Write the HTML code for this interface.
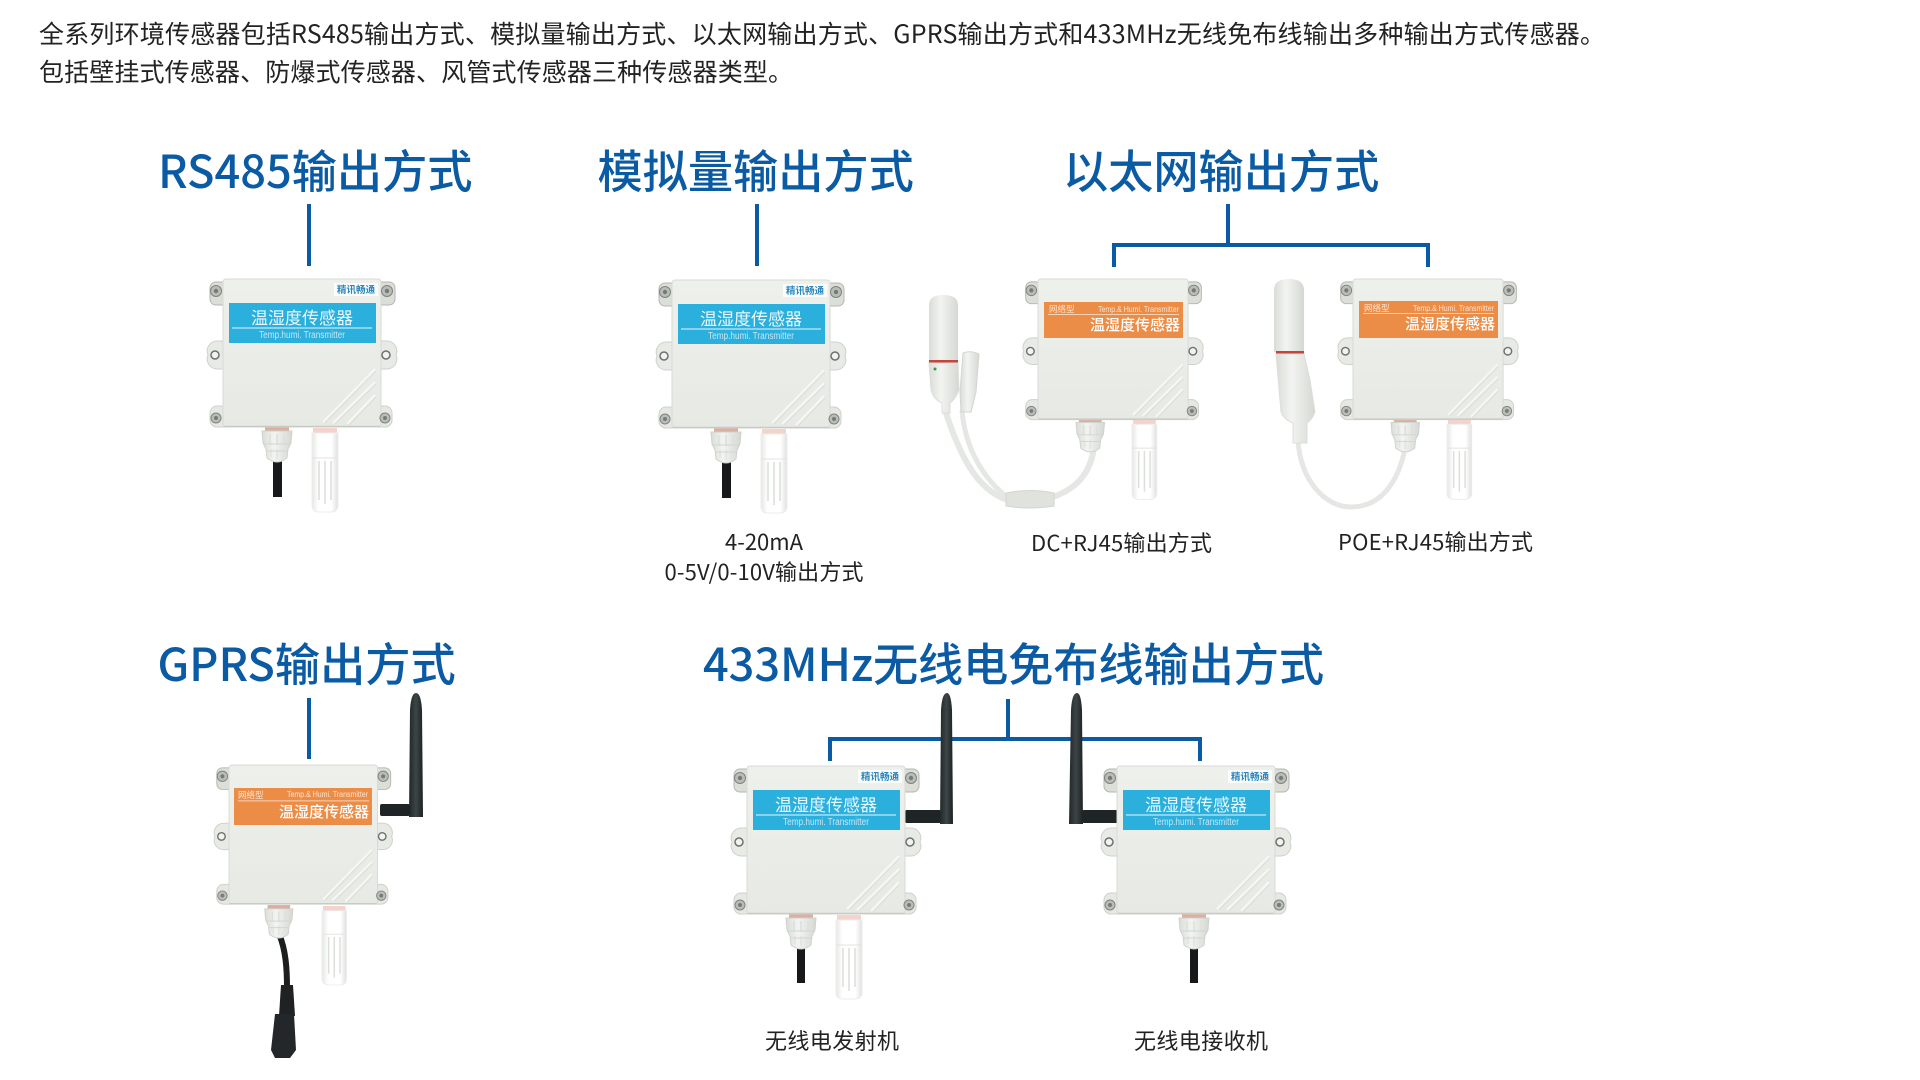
<!DOCTYPE html>
<html lang="zh">
<head>
<meta charset="utf-8">
<title>传感器输出方式</title>
<style>
html,body{margin:0;padding:0;background:#fff;width:1920px;height:1080px;overflow:hidden}
svg{display:block}
text{font-family:"Liberation Sans","Noto Sans CJK SC",sans-serif}
.cjk{font-family:"Noto Sans CJK SC","Liberation Sans",sans-serif}
.t{font-size:45.200px;fill:#0b5ba4;font-weight:500}
.p{font-size:25px;fill:#222}
.s{font-size:22px;fill:#222}
.lab{font-size:17px;fill:#eaf7fc}
.tmp{font-size:10px;fill:#c6e6f2}
.lg{font-size:9.500px;fill:#2a86bd;font-weight:700}
.ot{font-size:15px;fill:#fff;font-weight:500}
.os{font-size:8.500px;fill:#fbe3d0}
</style>
</head>
<body>
<svg xmlns="http://www.w3.org/2000/svg" width="1920" height="1080" viewBox="0 0 1920 1080">
<defs>
<linearGradient id="bg" x1="0" y1="0" x2="0" y2="1"><stop offset="0" stop-color="#eef0ec"/><stop offset="1" stop-color="#e7e9e4"/></linearGradient>
<linearGradient id="ant" x1="0" y1="0" x2="1" y2="0"><stop offset="0" stop-color="#22282a"/><stop offset=".5" stop-color="#3d4547"/><stop offset="1" stop-color="#1d2224"/></linearGradient>
<linearGradient id="pr" x1="0" y1="0" x2="1" y2="0"><stop offset="0" stop-color="#e6e7e5"/><stop offset=".25" stop-color="#fff"/><stop offset=".75" stop-color="#fff"/><stop offset="1" stop-color="#dfe0de"/></linearGradient>
<linearGradient id="st" x1="0" y1="0" x2="1" y2="0"><stop offset="0" stop-color="#d9dcd6"/><stop offset=".4" stop-color="#f3f4f1"/><stop offset="1" stop-color="#d5d8d2"/></linearGradient>
<g id="body">
  <path d="M3 3H-7a6 6 0 0 0-6 6v11a6 6 0 0 0 6 6H3Z" fill="#dcded8" stroke="#b5b7b1"/>
  <path d="M155 3h11a6 6 0 0 1 6 6v11a6 6 0 0 1-6 6h-11Z" fill="#dcded8" stroke="#b5b7b1"/>
  <path d="M3 62H-6a10 10 0 0 0-9 14 10 10 0 0 0 9 14H3Z" fill="#e8eae5" stroke="#cfd1cb"/>
  <path d="M155 62h9a10 10 0 0 1 9 14 10 10 0 0 1-9 14h-9Z" fill="#e8eae5" stroke="#cfd1cb"/>
  <path d="M3 127H-6a7 7 0 0 0-7 7v8a7 7 0 0 0 7 6H3Z" fill="#e6e8e3" stroke="#cfd1cb"/>
  <path d="M155 127h7a7 7 0 0 1 7 7v8a7 7 0 0 1-7 6h-7Z" fill="#e6e8e3" stroke="#cfd1cb"/>
  <rect x="0" y="0" width="158" height="148" rx="3" fill="url(#bg)" stroke="#d8dad4"/>
  <path d="M1 147.500H157" stroke="#c8cac4" stroke-width="1.500"/>
  <g fill="#b9bdb7" stroke="#7f8480"><circle cx="-7" cy="12" r="5.500"/><circle cx="164" cy="12" r="5.500"/><circle cx="-7" cy="139" r="5"/><circle cx="162" cy="139" r="5"/></g>
  <g fill="#767b77"><circle cx="-7" cy="12" r="2.200"/><circle cx="164" cy="12" r="2.200"/><circle cx="-7" cy="139" r="2"/><circle cx="162" cy="139" r="2"/></g>
  <g fill="#f2f3f0" stroke="#6d726e" stroke-width="1.500"><circle cx="-8" cy="76" r="4"/><circle cx="163" cy="76" r="4"/></g>
  <g stroke="#f7f8f5" stroke-width="2" fill="none"><path d="M152 90 100 143"/><path d="M152 103 110 144"/><path d="M152 116 124 145"/></g>
  <g stroke="#dcded8" stroke-width="1" fill="none"><path d="M153 92 102 144"/><path d="M153 105 112 145"/><path d="M153 118 126 146"/></g>
</g>
<g id="gland">
  <rect x="3" y="0" width="24" height="5" fill="#dcae9f"/>
  <path d="M0 4H30L29 16 26 22 25 31Q15 39 5 31L4 22 1 16Z" fill="url(#st)" stroke="#cfd2cd"/>
  <path d="M8 7V18M15 7V18M22 7V18" stroke="#dcdfdb" stroke-width="1.500"/>
  <path d="M9 22V30M15 22V32M21 22V30" stroke="#e2e4e0" stroke-width="1.500"/>
  <path d="M2 17H28M5 24H25" stroke="#d2d5d1"/>
</g>
<g id="probe">
  <rect x="1" y="0" width="24" height="6" fill="#f3d3cc"/>
  <path d="M0 5H26V77Q26 84 19 84H7Q0 84 0 77Z" fill="url(#pr)" stroke="#ecedeb"/>
  <path d="M0 30H26" stroke="#e2e4e1"/>
  <g stroke="#dcdedb" stroke-width="1.500"><path d="M7 33V72M13 33V76M19 33V72"/></g>
</g>
</defs>

<rect width="1920" height="1080" fill="#fff"/>

<!-- intro -->
<text class="p cjk" x="39" y="43" textLength="1566" lengthAdjust="spacing">全系列环境传感器包括RS485输出方式、模拟量输出方式、以太网输出方式、GPRS输出方式和433MHz无线免布线输出多种输出方式传感器。</text>
<text class="p cjk" x="39" y="81" textLength="754" lengthAdjust="spacing">包括壁挂式传感器、防爆式传感器、风管式传感器三种传感器类型。</text>

<!-- titles -->
<text class="t cjk" x="158" y="188">RS485输出方式</text>
<text class="t cjk" x="597.500" y="188">模拟量输出方式</text>
<text class="t cjk" x="1063" y="188">以太网输出方式</text>
<text class="t cjk" x="157.500" y="681">GPRS输出方式</text>
<text class="t cjk" x="703" y="681" textLength="621" lengthAdjust="spacing">433MHz无线电免布线输出方式</text>

<!-- connectors -->
<g stroke="#0b5ba4" stroke-width="4" fill="none">
  <path d="M309 204V266"/>
  <path d="M757 204V266"/>
  <path d="M1228 204V245"/>
  <path d="M1114 267V245H1428V267"/>
  <path d="M309 698V759"/>
  <path d="M1008 699V739"/>
  <path d="M830 761V739H1200V761"/>
</g>

<!-- D1 RS485 -->
<g transform="translate(223 279)">
  <rect x="50" y="180" width="9" height="38" fill="#17191a"/>
  <use href="#gland" x="39" y="148"/>
  <use href="#probe" x="89" y="149"/>
  <use href="#body"/>
  <rect x="111" y="4" width="44" height="13" fill="#fbfcfb"/>
  <text class="lg cjk" x="133" y="14" text-anchor="middle">精讯畅通</text>
  <rect x="6" y="24" width="147" height="40" fill="#2bb0de"/>
  <text class="lab cjk" x="79" y="45" text-anchor="middle">温湿度传感器</text>
  <rect x="9" y="48.500" width="140" height="1" fill="#e8f6fb"/>
  <text class="tmp" x="36" y="59" textLength="86" lengthAdjust="spacingAndGlyphs">Temp.humi. Transmitter</text>
</g>

<!-- D2 analog -->
<g transform="translate(672 280)">
  <rect x="50" y="180" width="9" height="38" fill="#17191a"/>
  <use href="#gland" x="39" y="148"/>
  <use href="#probe" x="89" y="149"/>
  <use href="#body"/>
  <rect x="111" y="4" width="44" height="13" fill="#fbfcfb"/>
  <text class="lg cjk" x="133" y="14" text-anchor="middle">精讯畅通</text>
  <rect x="6" y="24" width="147" height="40" fill="#2bb0de"/>
  <text class="lab cjk" x="79" y="45" text-anchor="middle">温湿度传感器</text>
  <rect x="9" y="48.500" width="140" height="1" fill="#e8f6fb"/>
  <text class="tmp" x="36" y="59" textLength="86" lengthAdjust="spacingAndGlyphs">Temp.humi. Transmitter</text>
</g>
<text class="s cjk" x="764" y="550" text-anchor="middle">4-20mA</text>
<text class="s cjk" x="764" y="580" text-anchor="middle" textLength="199" lengthAdjust="spacing">0-5V/0-10V输出方式</text>

<!-- D3 DC+RJ45 -->
<path d="M1094 448C1090 475 1075 490 1050 498" stroke="#e4e7e3" stroke-width="6" fill="none"/>
<path d="M1008 500C975 490 958 450 945 410" stroke="#e4e7e3" stroke-width="6" fill="none"/>
<path d="M1008 498C985 480 965 450 962 410" stroke="#e4e7e3" stroke-width="5" fill="none"/>
<path d="M1006 493Q1030 488 1054 493V506Q1030 510 1006 506Z" fill="#dfe2dd" stroke="#d2d5d0"/>
<path d="M963 353Q970 350 979 354L976 392 971 412H961L960 392Z" fill="url(#st)" stroke="#d2d5d0"/>
<path d="M929 305Q929 295 943 295 958 295 958 305V361H929Z" fill="url(#st)"/>
<rect x="929" y="360" width="29" height="3" fill="#c6443a"/>
<path d="M929 363H958L959 390Q955 400 950 403V413H942V403Q934 400 931 390Z" fill="url(#st)" stroke="#dcdeda"/>
<circle cx="935" cy="369" r="1.500" fill="#3a9b4a"/>
<g transform="translate(1038 279) scale(.95)">
  <use href="#gland" x="40" y="147"/>
  <use href="#probe" x="99" y="148"/>
  <use href="#body"/>
</g>
<rect x="1044" y="302" width="139" height="36" fill="#ec8d47"/>
<text class="os cjk" x="1049" y="312">网络型</text>
<text class="os" x="1098" y="312" textLength="81" lengthAdjust="spacingAndGlyphs">Temp.&amp; Humi. Transmitter</text>
<rect x="1048" y="314" width="131" height=".8" fill="#fbe3d0"/>
<text class="ot cjk" x="1180" y="330" text-anchor="end">温湿度传感器</text>

<!-- D4 POE+RJ45 -->
<path d="M1298 440C1300 480 1325 507 1351 507 1385 507 1400 475 1405 448" stroke="#e4e7e3" stroke-width="5" fill="none"/>
<path d="M1274 290Q1274 279 1289 279 1304 279 1304 290V352H1274Z" fill="url(#st)"/>
<rect x="1276" y="351" width="28" height="3" fill="#c6443a"/>
<path d="M1276 354H1304L1310 380 1315 412Q1312 420 1307 423V443H1293V423Q1284 420 1281 412Z" fill="url(#st)" stroke="#dcdeda"/>
<g transform="translate(1353 279) scale(.95)">
  <use href="#gland" x="40" y="147"/>
  <use href="#probe" x="99" y="148"/>
  <use href="#body"/>
</g>
<rect x="1359" y="301" width="139" height="37" fill="#ec8d47"/>
<text class="os cjk" x="1364" y="311">网络型</text>
<text class="os" x="1413" y="311" textLength="81" lengthAdjust="spacingAndGlyphs">Temp.&amp; Humi. Transmitter</text>
<rect x="1363" y="313" width="131" height=".8" fill="#fbe3d0"/>
<text class="ot cjk" x="1495" y="329" text-anchor="end">温湿度传感器</text>

<text class="s cjk" x="1031" y="551" textLength="181" lengthAdjust="spacing">DC+RJ45输出方式</text>
<text class="s cjk" x="1338" y="550" textLength="195" lengthAdjust="spacing">POE+RJ45输出方式</text>

<!-- D5 GPRS -->
<path d="M416 693Q411 693 410 710L409 817H423L422 710Q421 693 416 693Z" fill="url(#ant)"/>
<rect x="380" y="804" width="30" height="12" rx="2" fill="#1f2426"/>
<path d="M279 934C286 950 287 970 287 988" stroke="#1b1d1e" stroke-width="6" fill="none"/>
<path d="M281 985H293L295 1016 H279Z" fill="#1f2122"/>
<path d="M275 1014H294L296 1050 290 1058H275L271 1050Z" fill="#24272a"/>
<g transform="translate(229 765) scale(.94)">
  <use href="#gland" x="38" y="149"/>
  <use href="#probe" x="99" y="150"/>
  <use href="#body"/>
</g>
<rect x="234" y="788" width="138" height="37" fill="#ec8d47"/>
<text class="os cjk" x="238" y="798">网络型</text>
<text class="os" x="287" y="797" textLength="81" lengthAdjust="spacingAndGlyphs">Temp.&amp; Humi. Transmitter</text>
<rect x="238" y="800.500" width="131" height=".8" fill="#fbe3d0"/>
<text class="ot cjk" x="369" y="817" text-anchor="end">温湿度传感器</text>

<!-- D6 Tx -->
<rect x="905" y="810" width="36" height="13" rx="2" fill="#1f2426"/>
<path d="M947 693Q942 693 941 710L940 824H953L952 710Q951 693 947 693Z" fill="url(#ant)"/>
<g transform="translate(747 766)">
  <rect x="50" y="180" width="8" height="37" fill="#17191a"/>
  <use href="#gland" x="39" y="148"/>
  <use href="#probe" x="89" y="149"/>
  <use href="#body"/>
  <rect x="111" y="4" width="44" height="13" fill="#fbfcfb"/>
  <text class="lg cjk" x="133" y="14" text-anchor="middle">精讯畅通</text>
  <rect x="6" y="24" width="147" height="40" fill="#2bb0de"/>
  <text class="lab cjk" x="79" y="45" text-anchor="middle">温湿度传感器</text>
  <rect x="9" y="48.500" width="140" height="1" fill="#e8f6fb"/>
  <text class="tmp" x="36" y="59" textLength="86" lengthAdjust="spacingAndGlyphs">Temp.humi. Transmitter</text>
</g>

<!-- D7 Rx -->
<rect x="1082" y="810" width="36" height="13" rx="2" fill="#1f2426"/>
<path d="M1077 693Q1072 693 1071 710L1069 824H1083L1082 710Q1081 693 1077 693Z" fill="url(#ant)"/>
<g transform="translate(1117 766)">
  <rect x="73" y="180" width="8" height="37" fill="#17191a"/>
  <use href="#gland" x="62" y="148"/>
  <use href="#body"/>
  <rect x="111" y="4" width="44" height="13" fill="#fbfcfb"/>
  <text class="lg cjk" x="133" y="14" text-anchor="middle">精讯畅通</text>
  <rect x="6" y="24" width="147" height="40" fill="#2bb0de"/>
  <text class="lab cjk" x="79" y="45" text-anchor="middle">温湿度传感器</text>
  <rect x="9" y="48.500" width="140" height="1" fill="#e8f6fb"/>
  <text class="tmp" x="36" y="59" textLength="86" lengthAdjust="spacingAndGlyphs">Temp.humi. Transmitter</text>
</g>

<text class="s cjk" x="765" y="1049" textLength="134" lengthAdjust="spacing">无线电发射机</text>
<text class="s cjk" x="1134" y="1049" textLength="134" lengthAdjust="spacing">无线电接收机</text>
</svg>
</body>
</html>
